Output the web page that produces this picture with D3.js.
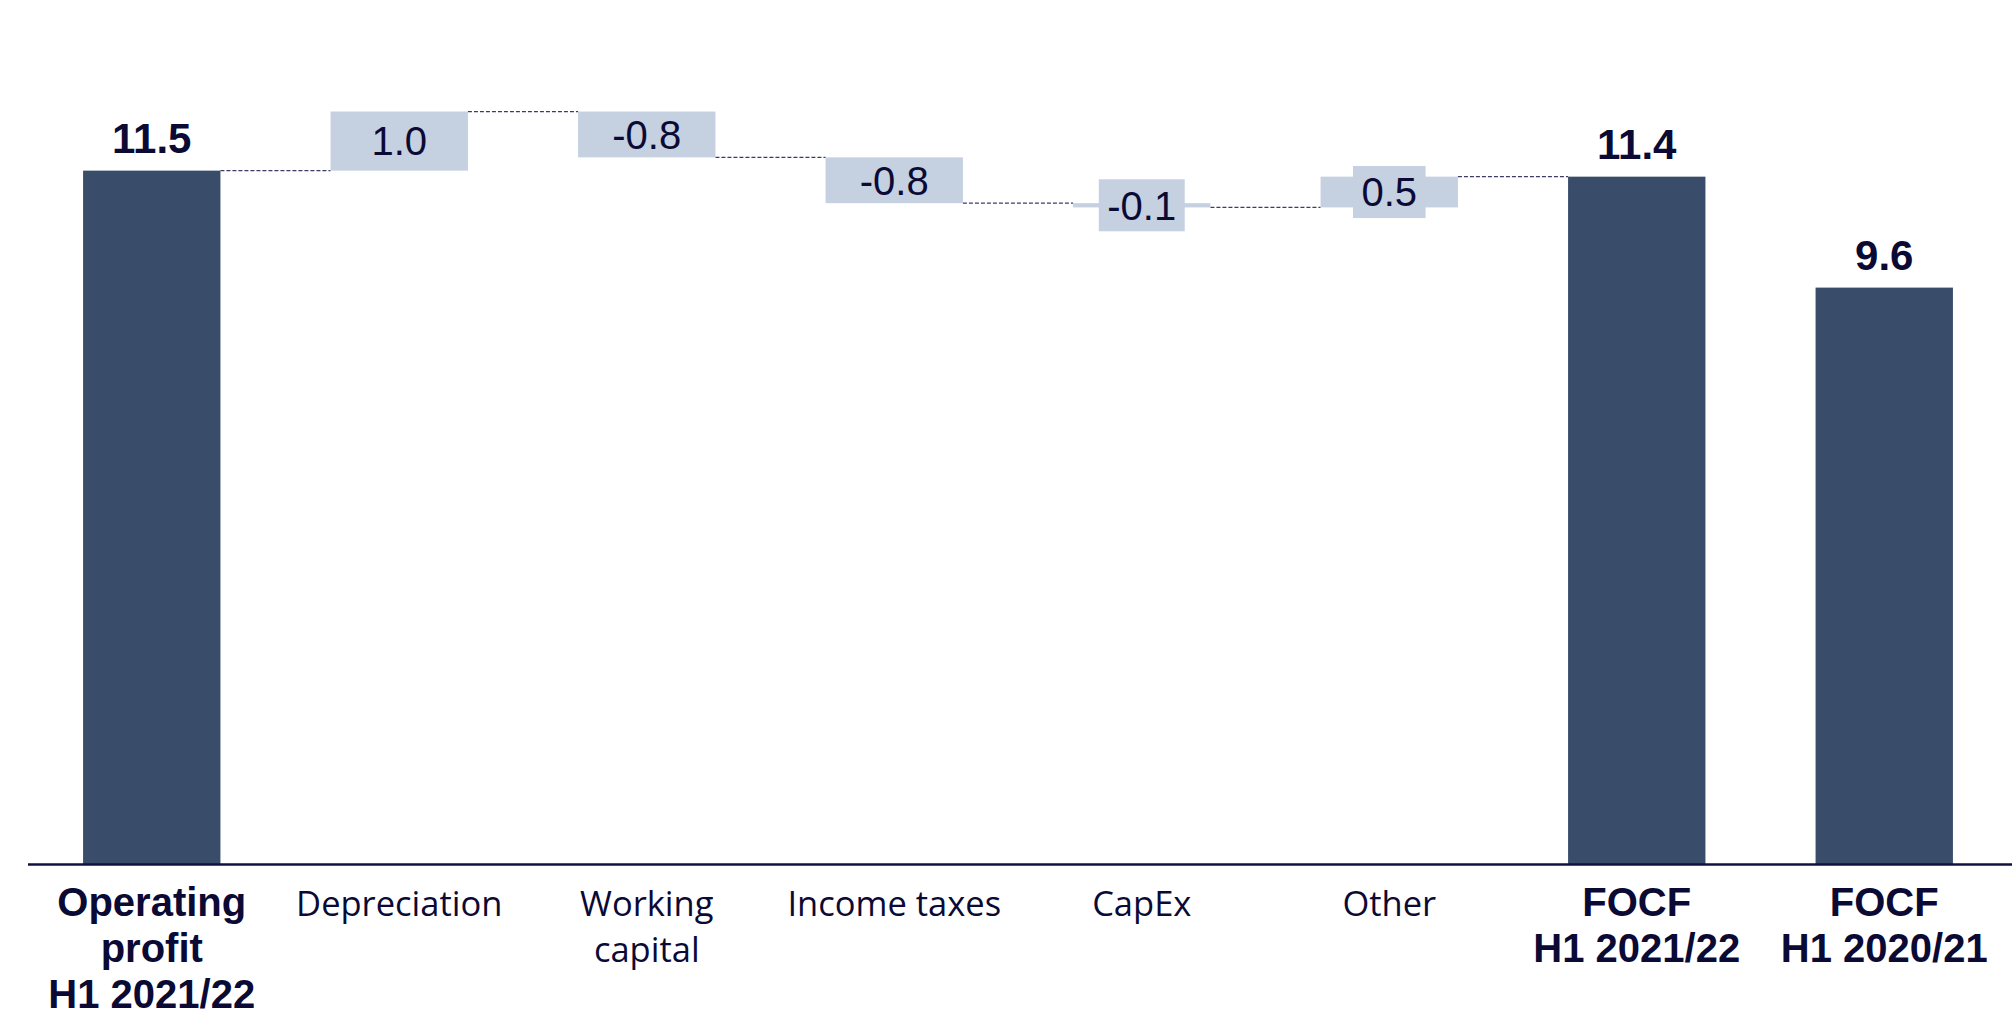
<!DOCTYPE html>
<html>
<head>
<meta charset="utf-8">
<script src="https://cdn.jsdelivr.net/npm/d3@7"></script>
<style>
  html, body { margin: 0; padding: 0; background: #ffffff; }
  svg { display: block; }
</style>
</head>
<body>
<svg id="chart" width="2012" height="1017"></svg>
<script>
// Free operating cash flow bridge, H1 2021/22 (EUR m)
const categories = [
  "Operating profit H1 2021/22", "Depreciation", "Working capital", "Income taxes",
  "CapEx", "Other", "FOCF H1 2021/22", "FOCF H1 2020/21"
];
const categoryLines = [
  ["Operating", "profit", "H1 2021/22"], ["Depreciation"], ["Working", "capital"], ["Income taxes"],
  ["CapEx"], ["Other"], ["FOCF", "H1 2021/22"], ["FOCF", "H1 2020/21"]
];
const barKinds = ["total", "delta", "delta", "delta", "delta", "delta", "total", "total"];
const values = [11.5, 0.98, -0.76, -0.76, -0.07, 0.51, 11.4, 9.56];

const COLORS = {
  total: "#394d6b",
  delta: "#c5d0e1",
  text: "#0a0a35",
  axis: "#111140",
  connector: "#3c3c66"
};

const svg = d3.select("#chart");

const x = d3.scaleBand()
  .domain(categories)
  .range([28, 2008])
  .paddingInner(0.445)
  .paddingOuter(0.2225);

const y = d3.scaleLinear()
  .domain([0, 14.33])
  .range([864, 0]);

// Running totals for the bridge
let running = 0;
const bars = categories.map((c, i) => {
  const v = values[i];
  let start, end;
  if (barKinds[i] === "total") {
    start = 0; end = v;
    if (i === 0) running = v;
  } else {
    start = running; end = running + v; running = end;
  }
  return { cat: c, value: v, kind: barKinds[i], start, end, lo: Math.min(start, end), hi: Math.max(start, end) };
});

// Dashed connectors between consecutive bridge steps (the prior-year total stands alone)
const connectors = [];
for (let i = 0; i < 6; i++) {
  connectors.push({ from: bars[i].cat, to: bars[i + 1].cat, level: bars[i].end });
}

svg.append("g")
  .selectAll("line")
  .data(connectors)
  .join("line")
  .attr("x1", d => x(d.from) + x.bandwidth())
  .attr("x2", d => x(d.to))
  .attr("y1", d => y(d.level))
  .attr("y2", d => y(d.level))
  .attr("stroke", COLORS.connector)
  .attr("stroke-width", 1.2)
  .attr("stroke-dasharray", "4,2");

// Bars
svg.append("g")
  .selectAll("rect")
  .data(bars)
  .join("rect")
  .attr("x", d => x(d.cat))
  .attr("width", x.bandwidth())
  .attr("y", d => y(d.hi))
  .attr("height", d => y(d.lo) - y(d.hi))
  .attr("fill", d => d.kind === "total" ? COLORS.total : COLORS.delta);

const fmt = d3.format(".1f");

// Labels on the step bars; thin bars get a background plate of the bar colour
const deltaLabels = svg.append("g")
  .selectAll("g")
  .data(bars.filter(d => d.kind === "delta"))
  .join("g")
  .attr("transform", d => `translate(${x(d.cat) + x.bandwidth() / 2},${y((d.lo + d.hi) / 2)})`);

deltaLabels.append("text")
  .attr("text-anchor", "middle")
  .attr("dy", "0.36em")
  .attr("font-family", "'Liberation Sans', Arial, sans-serif")
  .attr("font-size", 40)
  .attr("fill", COLORS.text)
  .text(d => fmt(d.value).replace("−", "-"));

deltaLabels.each(function (d) {
  if (y(d.lo) - y(d.hi) >= 40) return;
  const g = d3.select(this);
  const bb = g.select("text").node().getBBox();
  g.insert("rect", "text")
    .attr("x", -(bb.width + 17) / 2)
    .attr("width", bb.width + 17)
    .attr("y", -26)
    .attr("height", 52)
    .attr("fill", COLORS.delta);
});

// Value labels above the total bars
svg.append("g")
  .selectAll("text")
  .data(bars.filter(d => d.kind === "total"))
  .join("text")
  .attr("x", d => x(d.cat) + x.bandwidth() / 2)
  .attr("y", d => y(d.hi) - 18)
  .attr("text-anchor", "middle")
  .attr("font-family", "'Liberation Sans', Arial, sans-serif")
  .attr("font-weight", "bold")
  .attr("font-size", 42)
  .attr("fill", COLORS.text)
  .text(d => fmt(d.value));

// Category axis
const axis = svg.append("g")
  .attr("transform", `translate(0,${y(0)})`)
  .call(d3.axisBottom(x).tickSize(0).tickSizeOuter(0).tickFormat(""));

axis.select(".domain")
  .attr("d", "M28,0.5H2012")
  .attr("stroke", COLORS.axis)
  .attr("stroke-width", 2.5);

axis.selectAll(".tick").each(function (cat) {
  const i = categories.indexOf(cat);
  const total = barKinds[i] === "total";
  const t = d3.select(this).select("text")
    .attr("y", 0)
    .attr("dy", null)
    .attr("text-anchor", "middle")
    .attr("fill", COLORS.text)
    .attr("font-family", total ? "'Liberation Sans', Arial, sans-serif" : "'Open Sans', sans-serif")
    .attr("font-weight", total ? "bold" : "normal")
    .attr("font-size", total ? 40 : 34.5);
  t.selectAll("tspan")
    .data(categoryLines[i])
    .join("tspan")
    .attr("x", 0)
    .attr("y", (d, k) => 52 + k * 46)
    .text(d => d);
});
</script>
</body>
</html>
